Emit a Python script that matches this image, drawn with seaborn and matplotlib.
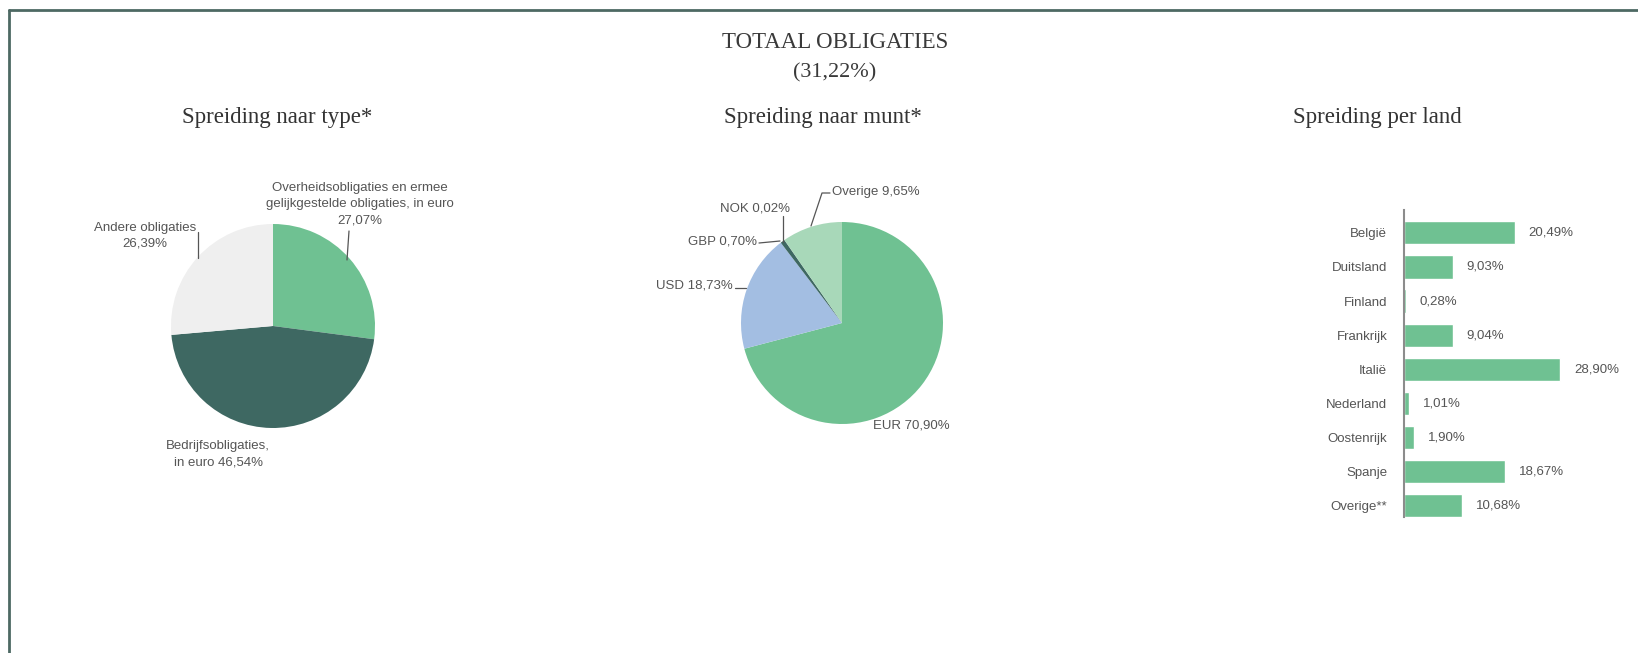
import matplotlib
matplotlib.use('Agg')
import matplotlib.pyplot as plt
from matplotlib.lines import Line2D
from matplotlib.transforms import ScaledTranslation
import numpy as np
import pandas as pd
import seaborn as sns

# data
type_names = ['Overheidsobligaties en ermee\ngelijkgestelde obligaties, in euro', 'Bedrijfsobligaties,\nin euro', 'Andere obligaties']
type_values = [27.07, 46.54, 26.39]
type_colors = ['#6fc192', '#3e6862', '#efefef']

munt_names = ['EUR', 'USD', 'GBP', 'NOK', 'Overige']
munt_values = [70.90, 18.73, 0.70, 0.02, 9.65]
munt_colors = ['#6fc192', '#a3bee2', '#3e6862', '#2f4f4a', '#a8d8b9']

landen = ['België', 'Duitsland', 'Finland', 'Frankrijk', 'Italië', 'Nederland', 'Oostenrijk', 'Spanje', 'Overige**']
land_values = [20.49, 9.03, 0.28, 9.04, 28.90, 1.01, 1.90, 18.67, 10.68]

totaal = 31.22


def pct(v):
    return f'{v:.2f}'.replace('.', ',') + '%'


sns.set_style('white')
plt.rcParams['font.family'] = ['Liberation Sans', 'DejaVu Sans']

W, H = 1638, 653
fig = plt.figure(figsize=(W / 100, H / 100), dpi=100)
fig.patch.set_facecolor('white')


def fx(x):
    return x / W


def fy(y):
    return 1 - y / H


def txt(x, y, s, ha='center', va='center', size=9.5, color='#555555', **kw):
    fig.text(fx(x), fy(y), s, ha=ha, va=va, fontsize=size, color=color, **kw)


def line(pts, color='#555555', lw=0.9):
    xs = [fx(p[0]) for p in pts]
    ys = [fy(p[1]) for p in pts]
    fig.add_artist(Line2D(xs, ys, color=color, lw=lw))


def pie_axes(cx, cy, r):
    s = 2.5 * r
    ax = fig.add_axes([fx(cx - s / 2), fy(cy + s / 2), s / W, s / H])
    return ax


# border (top + left only)
line([(9, 10), (W, 10)], color='#4d6963', lw=2)
line([(9, 10), (9, H)], color='#4d6963', lw=2)

# titles
serif = ['Liberation Serif', 'DejaVu Serif']
txt(835, 43, 'TOTAAL OBLIGATIES', size=16.5, color='#3a3a3a', family=serif)
txt(835, 73, '(' + pct(totaal) + ')', size=16, color='#3a3a3a', family=serif)
txt(277, 117, 'Spreiding naar type*', size=16.5, color='#333333', family=serif)
txt(823, 117, 'Spreiding naar munt*', size=16.5, color='#333333', family=serif)
txt(1377, 117, 'Spreiding per land', size=16.5, color='#333333', family=serif)

# pie 1: type
ax1 = pie_axes(273, 326, 102)
ax1.pie(type_values, colors=type_colors, startangle=90, counterclock=False,
        radius=1, wedgeprops=dict(linewidth=0))
ax1.set_xlim(-1.25, 1.25)
ax1.set_ylim(-1.25, 1.25)
ax1.axis('off')

txt(360, 204, type_names[0] + '\n' + pct(type_values[0]), linespacing=1.45)
line([(349, 231), (347, 260)])
txt(145, 236, type_names[2] + '\n' + pct(type_values[2]), linespacing=1.4)
line([(198, 232), (198, 258)])
txt(218, 454, type_names[1] + ' ' + pct(type_values[1]), linespacing=1.45)

# pie 2: munt
ax2 = pie_axes(842, 323, 101)
ax2.pie(munt_values, colors=munt_colors, startangle=90, counterclock=False,
        radius=1, wedgeprops=dict(linewidth=0))
ax2.set_xlim(-1.25, 1.25)
ax2.set_ylim(-1.25, 1.25)
ax2.axis('off')

txt(832, 192, munt_names[4] + ' ' + pct(munt_values[4]), ha='left')
line([(830, 193), (822, 193), (811, 226)])
txt(790, 209, munt_names[3] + ' ' + pct(munt_values[3]), ha='right')
line([(783, 216), (783, 242)])
txt(757, 241, munt_names[2] + ' ' + pct(munt_values[2]), ha='right')
line([(759, 243), (780, 241)])
txt(733, 285, munt_names[1] + ' ' + pct(munt_values[1]), ha='right')
line([(735, 288), (746, 288)])
txt(950, 425, munt_names[0] + ' ' + pct(munt_values[0]), ha='right')

# bar chart: land
df = pd.DataFrame({'land': landen, 'waarde': land_values})
axb = fig.add_axes([fx(1404), fy(517), 162 / W, 307 / H])
sns.barplot(data=df, x='waarde', y='land', color='#6fc192', saturation=1,
            width=0.68, ax=axb)
axb.set_xlim(0, 30)
axb.set_ylim(8.33, -0.67)
axb.set_xlabel('')
axb.set_ylabel('')
axb.set_xticks([])
for s in ['top', 'right', 'bottom']:
    axb.spines[s].set_visible(False)
axb.spines['left'].set_color('#8c8c8c')
axb.spines['left'].set_linewidth(1.5)
axb.set_yticks(np.arange(-0.67, 8.4, 1), minor=True)
axb.tick_params(axis='y', which='major', length=0, pad=12, labelsize=9.5, labelcolor='#555555')
axb.tick_params(axis='y', which='minor', length=4, width=1, color='#8c8c8c', direction='out')
labels = axb.bar_label(axb.containers[0], labels=[pct(v) for v in land_values],
                       padding=10, fontsize=9.5, color='#555555')
shift = ScaledTranslation(0, -0.03, fig.dpi_scale_trans)
for t in labels:
    t.set_transform(t.get_transform() + shift)

fig.savefig('out.png', dpi=100, facecolor='white')
